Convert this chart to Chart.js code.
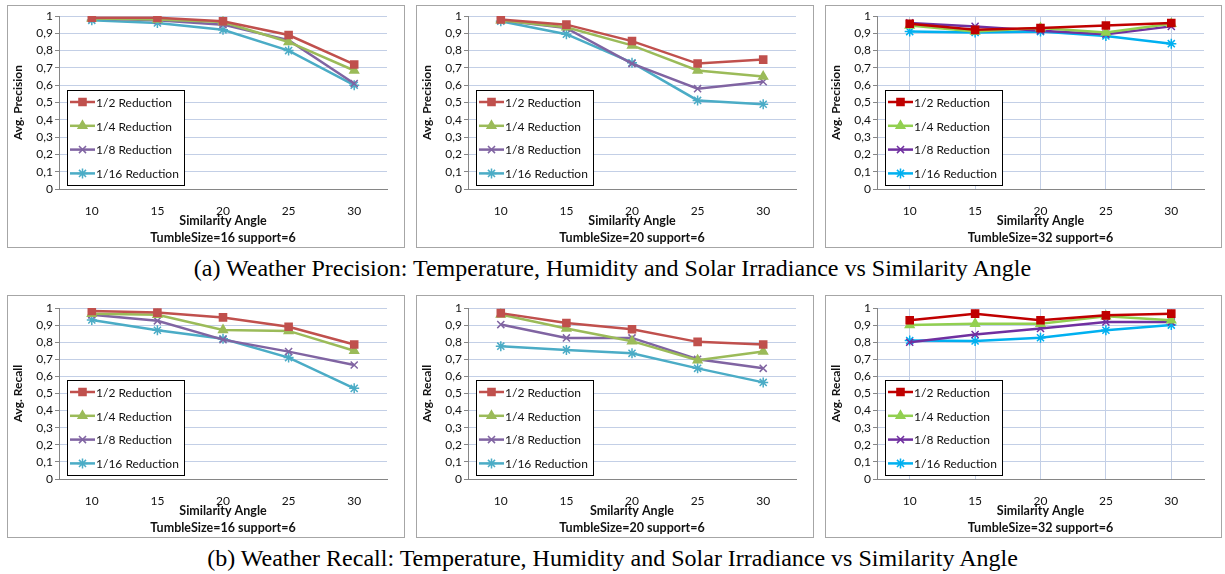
<!DOCTYPE html>
<html>
<head>
<meta charset="utf-8">
<script src="https://cdn.jsdelivr.net/npm/chart.js@4.4.0/dist/chart.umd.min.js"></script>
<style>
    body { margin: 0; background: #fff; width: 1225px; height: 574px; position: relative; overflow: hidden; }
    .panel { position: absolute; border: 1px solid #a6a6a6; background: #fff; }
    .panel canvas { display: block; }
    .caption { position: absolute; left: 0; width: 1225px; text-align: center; font-family: "Liberation Serif", serif; font-size: 24px; line-height: 26px; color: #000; }
</style>
</head>
<body>
<div class="panel" style="left:7px;top:5px;"><canvas id="c1" width="396" height="241"></canvas></div>
<div class="panel" style="left:416px;top:5px;"><canvas id="c2" width="396" height="241"></canvas></div>
<div class="panel" style="left:825px;top:5px;"><canvas id="c3" width="395" height="241"></canvas></div>
<div class="caption" style="top:255px;">(a) Weather Precision: Temperature, Humidity and Solar Irradiance vs Similarity Angle</div>
<div class="panel" style="left:7px;top:295px;"><canvas id="c4" width="396" height="241"></canvas></div>
<div class="panel" style="left:416px;top:295px;"><canvas id="c5" width="396" height="241"></canvas></div>
<div class="panel" style="left:825px;top:295px;"><canvas id="c6" width="395" height="241"></canvas></div>
<div class="caption" style="top:545px;">(b) Weather Recall: Temperature, Humidity and Solar Irradiance vs Similarity Angle</div>
<script>
// similarity angles (x categories)
const angles = ['10', '15', '20', '25', '30'];
const seriesNames = ['1/2 Reduction', '1/4 Reduction', '1/8 Reduction', '1/16 Reduction'];

// precision, tumble size 16
const prec16Half = [0.99, 0.99, 0.97, 0.89, 0.72];
const prec16Quarter = [0.985, 0.98, 0.965, 0.85, 0.685];
const prec16Eighth = [0.985, 0.975, 0.95, 0.86, 0.61];
const prec16Sixteenth = [0.975, 0.96, 0.92, 0.80, 0.60];

// precision, tumble size 20
const prec20Half = [0.98, 0.95, 0.855, 0.725, 0.748];
const prec20Quarter = [0.975, 0.935, 0.83, 0.685, 0.65];
const prec20Eighth = [0.975, 0.93, 0.725, 0.58, 0.62];
const prec20Sixteenth = [0.97, 0.895, 0.73, 0.512, 0.49];

// precision, tumble size 32
const prec32Half = [0.955, 0.92, 0.93, 0.945, 0.96];
const prec32Quarter = [0.945, 0.91, 0.93, 0.905, 0.955];
const prec32Eighth = [0.96, 0.94, 0.915, 0.895, 0.94];
const prec32Sixteenth = [0.91, 0.905, 0.91, 0.885, 0.84];

// recall, tumble size 16
const rec16Half = [0.982, 0.973, 0.945, 0.89, 0.787];
const rec16Quarter = [0.967, 0.96, 0.872, 0.866, 0.75];
const rec16Eighth = [0.96, 0.925, 0.815, 0.745, 0.667];
const rec16Sixteenth = [0.93, 0.87, 0.82, 0.71, 0.53];

// recall, tumble size 20
const rec20Half = [0.97, 0.912, 0.876, 0.802, 0.787];
const rec20Quarter = [0.962, 0.88, 0.806, 0.695, 0.745];
const rec20Eighth = [0.903, 0.825, 0.825, 0.70, 0.647];
const rec20Sixteenth = [0.777, 0.755, 0.735, 0.647, 0.565];

// recall, tumble size 32
const rec32Half = [0.928, 0.967, 0.928, 0.957, 0.967];
const rec32Quarter = [0.90, 0.908, 0.908, 0.952, 0.928];
const rec32Eighth = [0.80, 0.845, 0.88, 0.918, 0.918];
const rec32Sixteenth = [0.81, 0.807, 0.826, 0.87, 0.90];

const officeColors = ['#c0504d', '#9bbb59', '#8064a2', '#4bacc6'];
const brightColors = ['#c00000', '#92d050', '#7030a0', '#00b0f0'];
const markers = ['rect', 'triangle', 'crossRot', 'star'];
const gridColor = '#c3cfe6';
const axisColor = '#868686';
const textColor = '#111';
const fontFamily = 'Lato, "Open Sans", sans-serif';

// legend drawn inside the plot area, as in the original charts
const boxLegend = {
    id: 'boxLegend',
    afterDraw(chart) {
        const ctx = chart.ctx;
        const area = chart.chartArea;
        const x = area.left + 8;
        const h = 95;
        const y = area.bottom - 4 - h;
        ctx.save();
        ctx.fillStyle = '#fff';
        ctx.fillRect(x, y, 117, h);
        ctx.strokeStyle = '#000';
        ctx.lineWidth = 1;
        ctx.strokeRect(Math.round(x) + 0.5, Math.round(y) + 0.5, 117, h);
        chart.data.datasets.forEach((ds, i) => {
            const cy = y + 12 + i * 23.8;
            ctx.strokeStyle = ds.borderColor;
            ctx.lineWidth = 2.5;
            ctx.beginPath();
            ctx.moveTo(x + 3, cy);
            ctx.lineTo(x + 28, cy);
            ctx.stroke();
            ctx.fillStyle = ds.borderColor;
            ctx.strokeStyle = ds.borderColor;
            ctx.lineWidth = 1.5;
            Chart.helpers.drawPoint(ctx, { pointStyle: ds.pointStyle, radius: 5, rotation: 0, borderWidth: 1.5 }, x + 15.5, cy);
            ctx.fillStyle = textColor;
            ctx.font = '12px ' + fontFamily;
            ctx.textBaseline = 'middle';
            ctx.textAlign = 'left';
            ctx.fillText(ds.label, x + 29, cy + 1);
        });
        ctx.restore();
    }
};

function makeChart(id, series, colors, yTitle, xTitle, subtitle, verticalGrid, topPad) {
    new Chart(document.getElementById(id), {
        type: 'line',
        data: {
            labels: angles,
            datasets: series.map((values, i) => ({
                label: seriesNames[i],
                data: values,
                borderColor: colors[i],
                backgroundColor: colors[i],
                pointStyle: markers[i],
                pointRadius: 5,
                pointBorderWidth: 1.5,
                borderWidth: 2.5,
                fill: false,
                lineTension: 0,
            }))
        },
        options: {
            responsive: false,
            animation: false,
            layout: { padding: { top: topPad, right: 17, left: 0, bottom: 0 } },
            plugins: {
                legend: { display: false },
                tooltip: { enabled: false },
            },
            scales: {
                x: {
                    offset: true,
                    afterFit: scale => { scale.height = 58; },
                    grid: { display: verticalGrid, offset: false, color: gridColor, drawTicks: false },
                    border: { color: axisColor },
                    ticks: { padding: 15, color: textColor, font: { family: fontFamily, size: 12 } },
                    title: {
                        display: true,
                        text: [xTitle, subtitle],
                        color: textColor,
                        padding: { top: 0, bottom: 1 },
                        font: { family: fontFamily, size: 12.5, weight: 'bold', lineHeight: 1.35 },
                    },
                },
                y: {
                    min: 0,
                    max: 1,
                    afterFit: scale => { scale.width = 51; },
                    grid: { color: gridColor, tickColor: axisColor, tickLength: 4 },
                    border: { color: axisColor },
                    ticks: {
                        stepSize: 0.1,
                        autoSkip: false,
                        padding: 2,
                        color: textColor,
                        font: { family: fontFamily, size: 12, lineHeight: 1 },
                        callback: v => (Math.round(v * 10) / 10).toString().replace('.', ','),
                    },
                    title: {
                        display: true,
                        text: yTitle,
                        color: textColor,
                        padding: { top: 3, bottom: 0 },
                        font: { family: fontFamily, size: 12, weight: 'bold' },
                    },
                },
            },
        },
        plugins: [boxLegend],
    });
}

makeChart('c1', [prec16Half, prec16Quarter, prec16Eighth, prec16Sixteenth], officeColors,
    'Avg. Precision', 'Similarity Angle', 'TumbleSize=16 support=6', false, 10);
makeChart('c2', [prec20Half, prec20Quarter, prec20Eighth, prec20Sixteenth], officeColors,
    'Avg. Precision', 'Similarity Angle', 'TumbleSize=20 support=6', false, 10);
makeChart('c3', [prec32Half, prec32Quarter, prec32Eighth, prec32Sixteenth], brightColors,
    'Avg. Precision', 'Similarity Angle', 'TumbleSize=32 support=6', true, 10);
makeChart('c4', [rec16Half, rec16Quarter, rec16Eighth, rec16Sixteenth], officeColors,
    'Avg. Recall', 'Similarity Angle', 'TumbleSize=16 support=6', false, 12);
makeChart('c5', [rec20Half, rec20Quarter, rec20Eighth, rec20Sixteenth], officeColors,
    'Avg. Recall', 'Smilarity Angle', 'TumbleSize=20 support=6', false, 12);
makeChart('c6', [rec32Half, rec32Quarter, rec32Eighth, rec32Sixteenth], brightColors,
    'Avg. Recall', 'Similarity Angle', 'TumbleSize=32 support=6', true, 12);
</script>
</body>
</html>
